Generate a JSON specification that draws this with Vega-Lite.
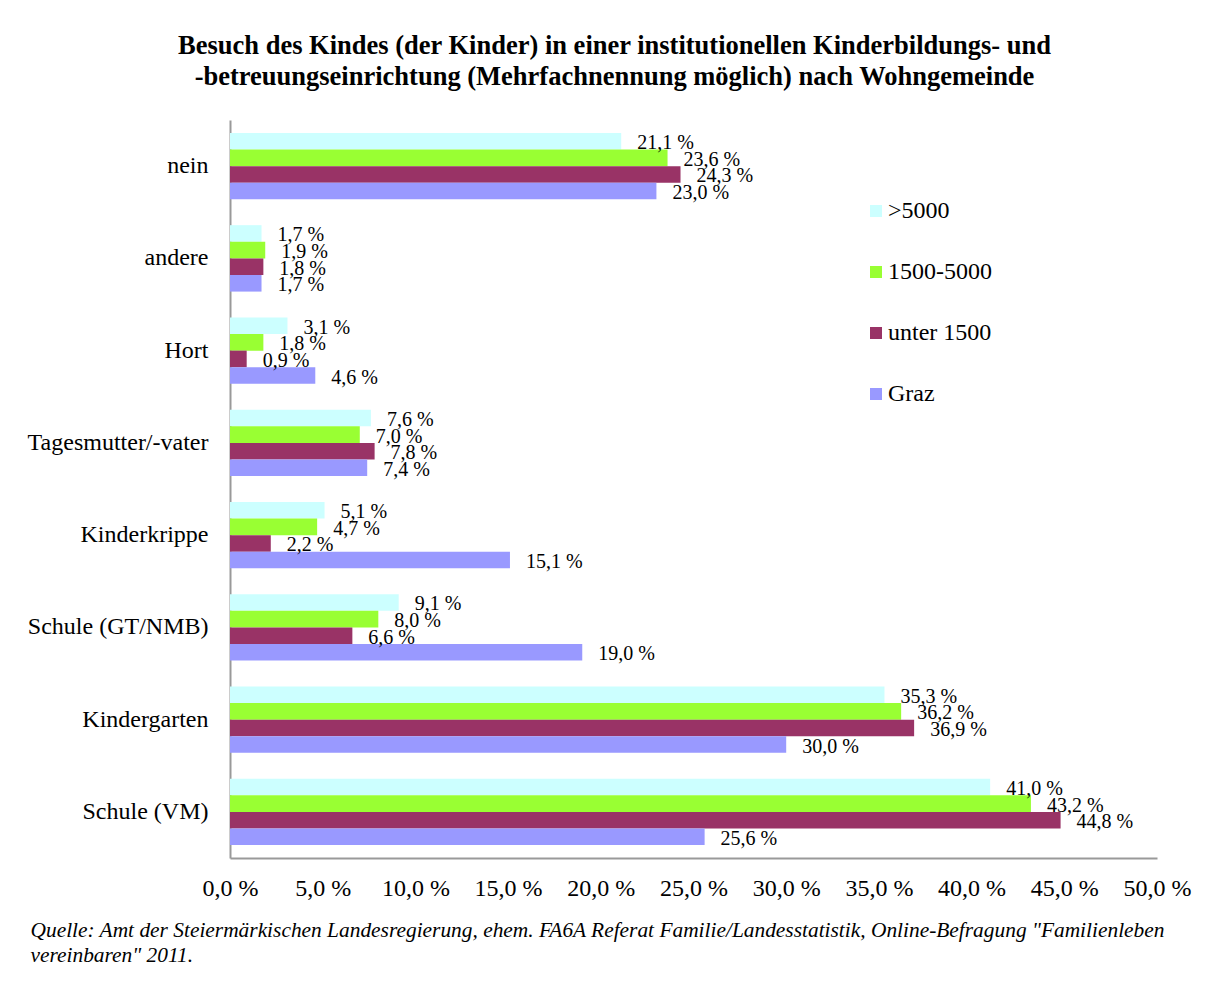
{
  "$schema": "https://vega.github.io/schema/vega-lite/v6.json",
  "width": 927,
  "height": 738,
  "autosize": {"type": "none"},
  "padding": {"left": 230, "top": 120, "right": 49, "bottom": 124},
  "background": "white",
  "title": {
    "text": ["Besuch des Kindes (der Kinder) in einer institutionellen Kinderbildungs- und", "-betreuungseinrichtung (Mehrfachnennung möglich) nach Wohngemeinde"],
    "font": "Liberation Serif",
    "fontSize": 26.5,
    "fontWeight": "bold",
    "color": "black",
    "anchor": "middle",
    "frame": "group",
    "dx": -79,
    "lineHeight": 31,
    "offset": 30
  },
  "data": {
    "values": [
      {"cat": "nein", "grp": ">5000", "v": 21.1},
      {"cat": "nein", "grp": "1500-5000", "v": 23.6},
      {"cat": "nein", "grp": "unter 1500", "v": 24.3},
      {"cat": "nein", "grp": "Graz", "v": 23.0},
      {"cat": "andere", "grp": ">5000", "v": 1.7},
      {"cat": "andere", "grp": "1500-5000", "v": 1.9},
      {"cat": "andere", "grp": "unter 1500", "v": 1.8},
      {"cat": "andere", "grp": "Graz", "v": 1.7},
      {"cat": "Hort", "grp": ">5000", "v": 3.1},
      {"cat": "Hort", "grp": "1500-5000", "v": 1.8},
      {"cat": "Hort", "grp": "unter 1500", "v": 0.9},
      {"cat": "Hort", "grp": "Graz", "v": 4.6},
      {"cat": "Tagesmutter/-vater", "grp": ">5000", "v": 7.6},
      {"cat": "Tagesmutter/-vater", "grp": "1500-5000", "v": 7.0},
      {"cat": "Tagesmutter/-vater", "grp": "unter 1500", "v": 7.8},
      {"cat": "Tagesmutter/-vater", "grp": "Graz", "v": 7.4},
      {"cat": "Kinderkrippe", "grp": ">5000", "v": 5.1},
      {"cat": "Kinderkrippe", "grp": "1500-5000", "v": 4.7},
      {"cat": "Kinderkrippe", "grp": "unter 1500", "v": 2.2},
      {"cat": "Kinderkrippe", "grp": "Graz", "v": 15.1},
      {"cat": "Schule (GT/NMB)", "grp": ">5000", "v": 9.1},
      {"cat": "Schule (GT/NMB)", "grp": "1500-5000", "v": 8.0},
      {"cat": "Schule (GT/NMB)", "grp": "unter 1500", "v": 6.6},
      {"cat": "Schule (GT/NMB)", "grp": "Graz", "v": 19.0},
      {"cat": "Kindergarten", "grp": ">5000", "v": 35.3},
      {"cat": "Kindergarten", "grp": "1500-5000", "v": 36.2},
      {"cat": "Kindergarten", "grp": "unter 1500", "v": 36.9},
      {"cat": "Kindergarten", "grp": "Graz", "v": 30.0},
      {"cat": "Schule (VM)", "grp": ">5000", "v": 41.0},
      {"cat": "Schule (VM)", "grp": "1500-5000", "v": 43.2},
      {"cat": "Schule (VM)", "grp": "unter 1500", "v": 44.8},
      {"cat": "Schule (VM)", "grp": "Graz", "v": 25.6}
    ]
  },
  "transform": [
    {"calculate": "replace(format(datum.v, '.1f'), '.', ',') + ' %'", "as": "lbl"}
  ],
  "encoding": {
    "y": {
      "field": "cat",
      "type": "nominal",
      "sort": ["nein", "andere", "Hort", "Tagesmutter/-vater", "Kinderkrippe", "Schule (GT/NMB)", "Kindergarten", "Schule (VM)"],
      "scale": {"paddingInner": 0.28, "paddingOuter": 0.14},
      "axis": {
        "title": null,
        "ticks": false,
        "labelPadding": 22,
        "labelLimit": 0,
        "labelFont": "Liberation Serif",
        "labelFontSize": 24,
        "labelColor": "black",
        "domainColor": "#999999",
        "domainWidth": 2
      }
    },
    "yOffset": {
      "field": "grp",
      "type": "nominal",
      "sort": [">5000", "1500-5000", "unter 1500", "Graz"],
      "scale": {"paddingInner": 0, "paddingOuter": 0}
    },
    "x": {
      "field": "v",
      "type": "quantitative",
      "scale": {"domain": [0, 50], "nice": false},
      "axis": {
        "values": [0, 5, 10, 15, 20, 25, 30, 35, 40, 45, 50],
        "labelExpr": "replace(format(datum.value, '.1f'), '.', ',') + ' %'",
        "ticks": false,
        "grid": false,
        "labelPadding": 18,
        "labelFont": "Liberation Serif",
        "labelFontSize": 24,
        "labelColor": "black",
        "labelFlush": false,
        "labelOverlap": false,
        "domainColor": "#999999",
        "domainWidth": 2,
        "title": ["Quelle: Amt der Steiermärkischen Landesregierung, ehem. FA6A Referat Familie/Landesstatistik, Online-Befragung \"Familienleben", "vereinbaren\" 2011."],
        "titleFont": "Liberation Serif",
        "titleFontSize": 21.4,
        "titleFontStyle": "italic",
        "titleFontWeight": "normal",
        "titleColor": "black",
        "titleAlign": "left",
        "titleAnchor": "start",
        "titleX": -200,
        "titleY": 61,
        "titleBaseline": "top",
        "titleLineHeight": 25,
        "titleLimit": 0
      }
    }
  },
  "layer": [
    {
      "mark": {"type": "bar"},
      "encoding": {
        "color": {
          "field": "grp",
          "type": "nominal",
          "sort": [">5000", "1500-5000", "unter 1500", "Graz"],
          "scale": {
            "domain": [">5000", "1500-5000", "unter 1500", "Graz"],
            "range": ["#CCFFFF", "#99FF33", "#993366", "#9999FF"]
          },
          "legend": {
            "title": null,
            "orient": "none",
            "legendX": 634,
            "legendY": 79,
            "symbolType": "square",
            "symbolSize": 144,
            "symbolStrokeWidth": 0,
            "labelFont": "Liberation Serif",
            "labelFontSize": 24,
            "labelColor": "black",
            "labelOffset": 0,
            "rowPadding": 37,
            "padding": 0
          }
        }
      }
    },
    {
      "mark": {"type": "text", "align": "left", "baseline": "middle", "dx": 16, "dy": 2, "font": "Liberation Serif", "fontSize": 20, "color": "black"},
      "encoding": {
        "text": {"field": "lbl", "type": "nominal"}
      }
    }
  ],
  "config": {
    "view": {"stroke": null}
  }
}
